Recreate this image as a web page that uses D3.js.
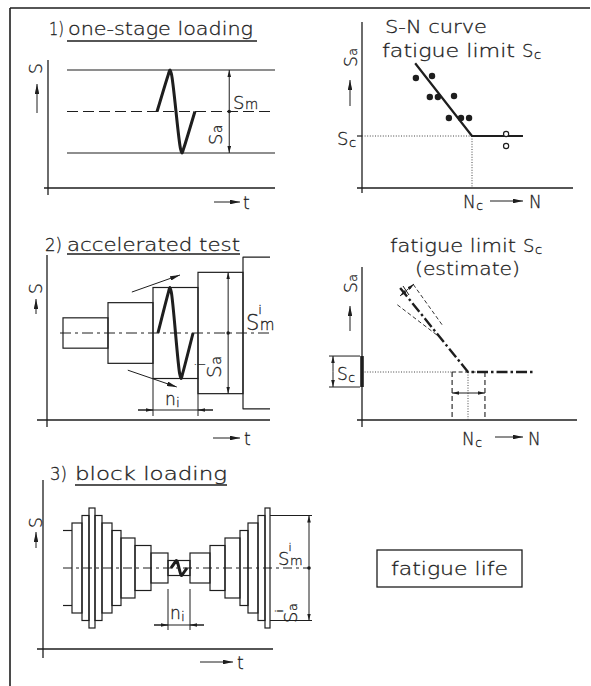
<!DOCTYPE html>
<html><head><meta charset="utf-8">
<script src="https://cdn.jsdelivr.net/npm/d3@7"></script>
<style>
body{margin:0;background:#fff}
svg{display:block}
text{font-family:"DejaVu Sans",sans-serif;font-weight:200;fill:#1e1e1e;stroke:#1e1e1e;stroke-width:0.3}
</style>
</head><body>
<svg id="c" width="591" height="686"></svg>
<script>
// ================= DATA =================
// normalised shape of one load cycle (phase within cycle, relative amplitude)
const cyclePhase = [0, 0.30, 0.34, 0.38, 0.62, 0.66, 0.70, 1];
const cycleAmp   = [0, 0.90, 1.00, 0.90, -0.90, -1.00, -0.90, 0];

// Panel 1: one-stage loading
const oneStageLevels = [3, 2, 1];      // S_max, S_m, S_min
const oneStageSpan = [0, 100];         // time span
const oneStageCycle = [43.3, 61.5];    // one drawn cycle (time)
const oneStageDimT = 78;

// Panel 2: S-N curve (log10 N , S_a)
const snCurveLogN = [4.45, 6, 7.39];
const snCurveSa   = [96, 40, 40];
const failLogN = [4.47, 4.91, 4.85, 5.07, 5.51, 5.37, 5.70, 5.92];
const failSa   = [84.6, 86.2, 70, 70, 70.8, 53.8, 53.8, 53.8];
const runoutLogN = [6.93, 6.93];
const runoutSa   = [41.5, 32.3];
const fatigueLimit = 40, kneeLogN = 6;

// Panel 3: accelerated test
const accelMean = 120;
const accelAmp = [20, 40, 60, 80, 100];   // S_a^i of each step
const accelN   = [1, 1, 1, 1, 0.6];       // duration n_i of each step
const accelCycleT = [2.11, 2.89];         // drawn cycle inside step 3
const accelArrowUp = [[1.53, 174], [2.6, 196.5]];
const accelArrowDn = [[1.44, 71], [2.53, 48.8]];
const accelDimT = 3.67;

// Panel 4: fatigue limit estimate
const estLogN = [4.08, 6, 7.9];
const estSa   = [110, 40, 40];
const bandUpper = [[4.45, 113], [5.3, 78]];
const bandLower = [[4.0, 96], [5.2, 69]];
const estNcRange = [5.55, 6.48];
const estScRange = [27.5, 53.3];
const estArrowSa = 22.5;

// Panel 5: block loading (amplitude level, block duration)
const blockLevelsL = [5, 6, 7, 8, 7, 6, 5, 4, 3, 2, 1];
const blockDurL    = [9, 10, 7, 6, 7, 10, 9, 14, 16, 17, 22];
const blockLevelsR = [2, 3, 4, 5, 6, 7, 8];
const blockDurR    = [20, 15, 15, 8, 10, 7, 5];
const blockDimLevel = 7, blockDimT = 246, blockTickT = [207, 249];

// ================= DRAWING =================
const svg = d3.select("#c");
const INK = "#1e1e1e";
svg.append("rect").attr("width", 591).attr("height", 686).attr("fill", "#fff");
const defs = svg.append("defs");
function marker(id, L, W) {
  defs.append("marker").attr("id", id).attr("viewBox", `0 0 ${L} ${W}`)
    .attr("refX", L).attr("refY", W / 2).attr("markerWidth", L).attr("markerHeight", W)
    .attr("markerUnits", "userSpaceOnUse").attr("orient", "auto-start-reverse")
    .append("path").attr("d", `M0,0L${L},${W / 2}L0,${W}Z`).attr("fill", INK);
}
marker("ah", 10, 4.6);
marker("ahs", 7, 3.6);

function ln(g, x1, y1, x2, y2, o = {}) {
  const l = g.append("line").attr("x1", x1).attr("y1", y1).attr("x2", x2).attr("y2", y2)
    .attr("stroke", o.color || INK).attr("stroke-width", o.w || 1.3).attr("fill", "none");
  if (o.dash) l.attr("stroke-dasharray", o.dash);
  if (o.end) l.attr("marker-end", `url(#${o.end})`);
  if (o.start) l.attr("marker-start", `url(#${o.start})`);
  return l;
}
function pth(g, pts, o = {}) {
  const gen = d3.line();
  if (o.curve) gen.curve(o.curve);
  const p = g.append("path").attr("d", gen(pts)).attr("fill", "none")
    .attr("stroke", o.color || INK).attr("stroke-width", o.w || 1.2)
    .attr("stroke-linejoin", "round").attr("stroke-linecap", o.cap || "butt");
  if (o.dash) p.attr("stroke-dasharray", o.dash);
  return p;
}
function txt(g, x, y, s, size, o = {}) {
  const t = g.append("text").attr("x", x).attr("y", y).attr("font-size", size).text(s);
  if (o.len) t.attr("textLength", o.len).attr("lengthAdjust", "spacingAndGlyphs");
  if (o.anchor) t.attr("text-anchor", o.anchor);
  return t;
}
function sym(g, x, y, main, sub, sup, size, o = {}) {
  const gg = g.append("g").attr("transform", `translate(${x},${y})${o.rot ? " rotate(-90)" : ""}`);
  const mw = (main === "N" ? 0.75 : 0.635) * size;
  txt(gg, 0, 0, main, size);
  if (sup) txt(gg, mw + (o.supDx || -1), -size * 0.78, sup, size * 0.62);
  if (sub) txt(gg, mw + (o.subDx || 0.5), o.subDy || 0, sub, size * (o.subScale || 0.72));
  return gg;
}
function cyclePts(xs, ys, t0, t1, mean, amp) {
  return cyclePhase.map((p, i) => [xs(t0 + p * (t1 - t0)), ys(mean + cycleAmp[i] * amp)]);
}
function dimV(g, x, yA, yB, yMid) {
  ln(g, x, (yA + yB) / 2, x, yA, { end: "ahs", w: 1 });
  ln(g, x, (yA + yB) / 2, x, yB, { end: "ahs", w: 1 });
  if (yMid !== undefined) g.append("circle").attr("cx", x).attr("cy", yMid).attr("r", 1.8).attr("fill", INK);
}
function dimOutside(g, xA, xB, y, ext) {
  ln(g, xA - ext, y, xB + ext, y, { w: 1 });
  ln(g, xA - ext, y, xA, y, { end: "ahs", w: 1 });
  ln(g, xB + ext, y, xB, y, { end: "ahs", w: 1 });
}
const round = d3.curveCatmullRom.alpha(0.5);

// ---------- frame ----------
ln(svg, 10, 8, 590, 8, { w: 1.6 });
ln(svg, 10, 8, 10, 686, { w: 1.6 });

// ---------- Panel 1 ----------
{
  const g = svg.append("g");
  const x = d3.scaleLinear().domain([0, 100]).range([67, 275]);
  const y = d3.scaleLinear().domain([1, 3]).range([153, 70]);
  txt(g, 49, 35, "1)", 18, { len: 15 });
  txt(g, 68, 35, "one-stage loading", 18, { len: 185 });
  ln(g, 67, 41, 257, 41, { w: 1.4 });
  ln(g, 48, 60, 48, 195);
  ln(g, 44, 188, 275, 188);
  sym(g, 42, 74, "S", null, null, 17, { rot: true });
  ln(g, 37, 113, 37, 84, { end: "ah", w: 1 });
  ln(g, 214, 202, 240, 202, { end: "ah", w: 1 });
  txt(g, 243, 209, "t", 17);
  oneStageLevels.forEach((s, i) => {
    ln(g, x(oneStageSpan[0]), y(s), x(oneStageSpan[1]), y(s), { w: 1.2, dash: i === 1 ? "11,5" : null });
  });
  pth(g, cyclePts(x, y, oneStageCycle[0], oneStageCycle[1], oneStageLevels[1], 1), { w: 3, curve: round });
  dimV(g, x(oneStageDimT), y(oneStageLevels[0]), y(oneStageLevels[2]), y(oneStageLevels[1]));
  sym(g, 233, 109, "S", "m", null, 18, { subScale: 0.75 });
  sym(g, 222, 145, "S", "a", null, 18, { rot: true, subScale: 0.75 });
}

// ---------- Panel 2 ----------
{
  const g = svg.append("g");
  const x = d3.scaleLinear().domain([3, 6]).range([362, 472]);
  const y = d3.scaleLinear().domain([0, 40]).range([188, 136]);
  txt(g, 385, 33, "S-N curve", 18, { len: 102 });
  txt(g, 382, 57, "fatigue limit", 18, { len: 133 });
  sym(g, 522, 57, "S", "c", null, 18, { subDy: 2, subScale: 0.72 });
  ln(g, 362, 22, 362, 193);
  ln(g, 357, 188, 573, 188);
  sym(g, 357, 67, "S", "a", null, 17, { rot: true, subScale: 0.75 });
  ln(g, 350, 106, 350, 80, { end: "ah", w: 1 });
  ln(g, x(3), y(fatigueLimit), x(kneeLogN), y(fatigueLimit), { w: 1, dash: "1,1.6", color: "#444" });
  ln(g, x(kneeLogN), y(fatigueLimit), x(kneeLogN), 188, { w: 1, dash: "1,1.6", color: "#444" });
  ln(g, 357, y(fatigueLimit), 362, y(fatigueLimit), { w: 1.2 });
  sym(g, 337, 145, "S", "c", null, 18, { subDy: 2 });
  pth(g, snCurveLogN.map((n, i) => [x(n), y(snCurveSa[i])]), { w: 2.2 });
  g.selectAll("circle.f").data(failLogN).enter().append("circle").attr("class", "f")
    .attr("cx", d => x(d)).attr("cy", (d, i) => y(failSa[i])).attr("r", 3.2).attr("fill", INK);
  g.selectAll("circle.r").data(runoutLogN).enter().append("circle").attr("class", "r")
    .attr("cx", d => x(d)).attr("cy", (d, i) => y(runoutSa[i])).attr("r", 2.6)
    .attr("fill", "#fff").attr("stroke", INK).attr("stroke-width", 1.2);
  sym(g, 463, 208, "N", "c", null, 17, { subDy: 2 });
  ln(g, 490, 201, 523, 201, { end: "ah", w: 1 });
  txt(g, 529, 208, "N", 17);
}

// ---------- Panel 3 ----------
{
  const g = svg.append("g");
  const x = d3.scaleLinear().domain([0, 4.6]).range([63, 270]);
  const y = d3.scaleLinear().domain([0, 240]).range([424, 242]);
  txt(g, 45, 251, "2)", 18, { len: 17 });
  txt(g, 67, 251, "accelerated test", 18, { len: 173 });
  ln(g, 67, 254, 240, 254, { w: 1.4 });
  ln(g, 47, 255, 47, 427);
  ln(g, 37, 420, 270, 420);
  sym(g, 42, 294, "S", null, null, 17, { rot: true });
  ln(g, 36, 314, 36, 299, { end: "ah", w: 1 });
  ln(g, 213, 438, 240, 438, { end: "ah", w: 1 });
  txt(g, 244, 445, "t", 17);
  const starts = d3.cumsum([0, ...accelN]);
  accelAmp.forEach((a, i) => {
    const x0 = x(starts[i]), x1 = x(starts[i + 1]);
    const yt = y(accelMean + a), yb = y(accelMean - a);
    if (i < accelAmp.length - 1) {
      g.append("rect").attr("x", x0).attr("y", yt).attr("width", x1 - x0).attr("height", yb - yt)
        .attr("fill", "none").attr("stroke", INK).attr("stroke-width", 1.2);
    } else {
      pth(g, [[x1, yt], [x0, yt], [x0, yb], [x1, yb]], { w: 1.2 });
    }
  });
  ln(g, 60, y(accelMean), 270, y(accelMean), { w: 1, dash: "11,4,3,4" });
  pth(g, cyclePts(x, y, accelCycleT[0], accelCycleT[1], accelMean, accelAmp[2]), { w: 3, curve: round });
  [accelArrowUp, accelArrowDn].forEach(a => {
    ln(g, x(a[0][0]), y(a[0][1]), x(a[1][0]), y(a[1][1]), { w: 1, end: "ah" });
  });
  dimV(g, x(accelDimT), y(accelMean + accelAmp[3]), y(accelMean - accelAmp[3]), y(accelMean));
  sym(g, 246, 330, "S", "m", "i", 21, { subScale: 0.72 });
  sym(g, 221, 378, "S", "a", "i", 20, { rot: true, subScale: 0.72 });
  const yb3 = y(accelMean - accelAmp[2]);
  ln(g, x(starts[2]), yb3, x(starts[2]), 416, { w: 1 });
  ln(g, x(starts[3]), yb3, x(starts[3]), 416, { w: 1 });
  dimOutside(g, x(starts[2]), x(starts[3]), 410, 15);
  sym(g, 165, 405, "n", "i", null, 17, { subDy: 2, subScale: 0.7 });
}

// ---------- Panel 4 ----------
{
  const g = svg.append("g");
  const x = d3.scaleLinear().domain([3, 6]).range([362, 468]);
  const y = d3.scaleLinear().domain([0, 40]).range([420, 372]);
  txt(g, 390, 252, "fatigue limit", 18, { len: 126 });
  sym(g, 523, 252, "S", "c", null, 18, { subDy: 2 });
  txt(g, 415, 275, "(estimate)", 18, { len: 105 });
  ln(g, 362, 267, 362, 427);
  ln(g, 357, 420, 577, 420);
  sym(g, 357, 293, "S", "a", null, 17, { rot: true, subScale: 0.75 });
  ln(g, 350, 331, 350, 306, { end: "ah", w: 1 });
  // scatter of N_c
  ln(g, x(3), y(fatigueLimit), x(estNcRange[0]), y(fatigueLimit), { w: 1, dash: "1,1.6", color: "#444" });
  ln(g, x(estNcRange[0]), y(fatigueLimit), x(estNcRange[1]), y(fatigueLimit), { w: 1, dash: "4,2.5" });
  estNcRange.forEach(n => ln(g, x(n), y(fatigueLimit), x(n), 420, { w: 1.1, dash: "5,3" }));
  ln(g, x(kneeLogN), y(fatigueLimit), x(kneeLogN), 420, { w: 1, dash: "1,1.6", color: "#444" });
  const ya = y(estArrowSa);
  ln(g, x(kneeLogN), ya, x(estNcRange[0]), ya, { w: 1, end: "ahs" });
  ln(g, x(kneeLogN), ya, x(estNcRange[1]), ya, { w: 1, end: "ahs" });
  // scatter band
  [bandUpper, bandLower].forEach(b => pth(g, b.map(p => [x(p[0]), y(p[1])]), { w: 0.9, dash: "4,2.5" }));
  ln(g, 407, 290, 400, 296, { w: 0.9, end: "ahs" });
  ln(g, 407, 290, 414, 284, { w: 0.9, end: "ahs" });
  ln(g, 403, 286, 409, 295, { w: 1 });
  // estimated curve
  pth(g, estLogN.map((n, i) => [x(n), y(estSa[i])]), { w: 2.4, dash: "11,3,2.5,3" });
  // S_c scatter on axis
  ln(g, 362, y(estScRange[1]), 362, y(estScRange[0]), { w: 3.6 });
  ln(g, 329, y(estScRange[1]), 360, y(estScRange[1]), { w: 1 });
  ln(g, 329, y(estScRange[0]), 360, y(estScRange[0]), { w: 1 });
  dimV(g, 333, y(estScRange[1]), y(estScRange[0]));
  sym(g, 337, 380, "S", "c", null, 17, { subDy: 2 });
  sym(g, 462, 445, "N", "c", null, 17, { subDy: 2 });
  ln(g, 495, 437, 523, 437, { end: "ah", w: 1 });
  txt(g, 528, 445, "N", 17);
}

// ---------- Panel 5 ----------
{
  const g = svg.append("g");
  const x = d3.scaleLinear().domain([0, 212]).range([63, 275]);
  const y = d3.scaleLinear().domain([-8, 8]).range([628, 508]);
  txt(g, 50, 480, "3)", 18, { len: 17 });
  txt(g, 75, 480, "block loading", 18, { len: 152 });
  ln(g, 75, 485, 227, 485, { w: 1.4 });
  ln(g, 43, 480, 43, 658);
  ln(g, 37, 649, 273, 649);
  sym(g, 42, 528, "S", null, null, 17, { rot: true });
  ln(g, 36, 548, 36, 532, { end: "ah", w: 1 });
  ln(g, 200, 662, 233, 662, { end: "ah", w: 1 });
  txt(g, 237, 669, "t", 17);
  const levels = blockLevelsL.concat(blockLevelsR);
  const durs = blockDurL.concat(blockDurR);
  const st = d3.cumsum([0, ...durs]);
  levels.forEach((lv, i) => {
    const x0 = x(st[i]), x1 = x(st[i + 1]), yt = y(lv), yb = y(-lv);
    if (i === 0) {
      ln(g, x0, yt, x1, yt, { w: 1.2 });
      ln(g, x0, yb, x1, yb, { w: 1.2 });
    } else {
      g.append("rect").attr("x", x0).attr("y", yt).attr("width", x1 - x0).attr("height", yb - yt)
        .attr("fill", "none").attr("stroke", INK).attr("stroke-width", 1.2);
    }
  });
  ln(g, x(0), y(0), x(blockDimT), y(0), { w: 1, dash: "9,4,3,4" });
  const wi = blockLevelsL.length - 1;
  pth(g, cyclePts(x, y, st[wi] + 3, st[wi + 1] - 3, 0, 1), { w: 3, curve: round });
  ln(g, x(blockTickT[0]), y(blockDimLevel), x(blockTickT[1]), y(blockDimLevel), { w: 1 });
  ln(g, x(blockTickT[0]), y(-blockDimLevel), x(blockTickT[1]), y(-blockDimLevel), { w: 1 });
  dimV(g, x(blockDimT), y(blockDimLevel), y(-blockDimLevel), y(0));
  sym(g, 278, 565, "S", "m", "i", 18, { subScale: 0.72 });
  sym(g, 297, 623, "S", "a", "i", 18, { rot: true, subScale: 0.72 });
  ln(g, x(st[wi]), 589, x(st[wi]), 630, { w: 1 });
  ln(g, x(st[wi + 1]), 589, x(st[wi + 1]), 630, { w: 1 });
  dimOutside(g, x(st[wi]), x(st[wi + 1]), 625, 14);
  sym(g, 170, 619, "n", "i", null, 17, { subDy: 2, subScale: 0.7 });
}

// ---------- fatigue life box ----------
{
  const g = svg.append("g");
  g.append("rect").attr("x", 377).attr("y", 550).attr("width", 145).attr("height", 37)
    .attr("fill", "none").attr("stroke", INK).attr("stroke-width", 1.3);
  txt(g, 391, 575, "fatigue life", 18, { len: 117 });
}
</script>
</body></html>
